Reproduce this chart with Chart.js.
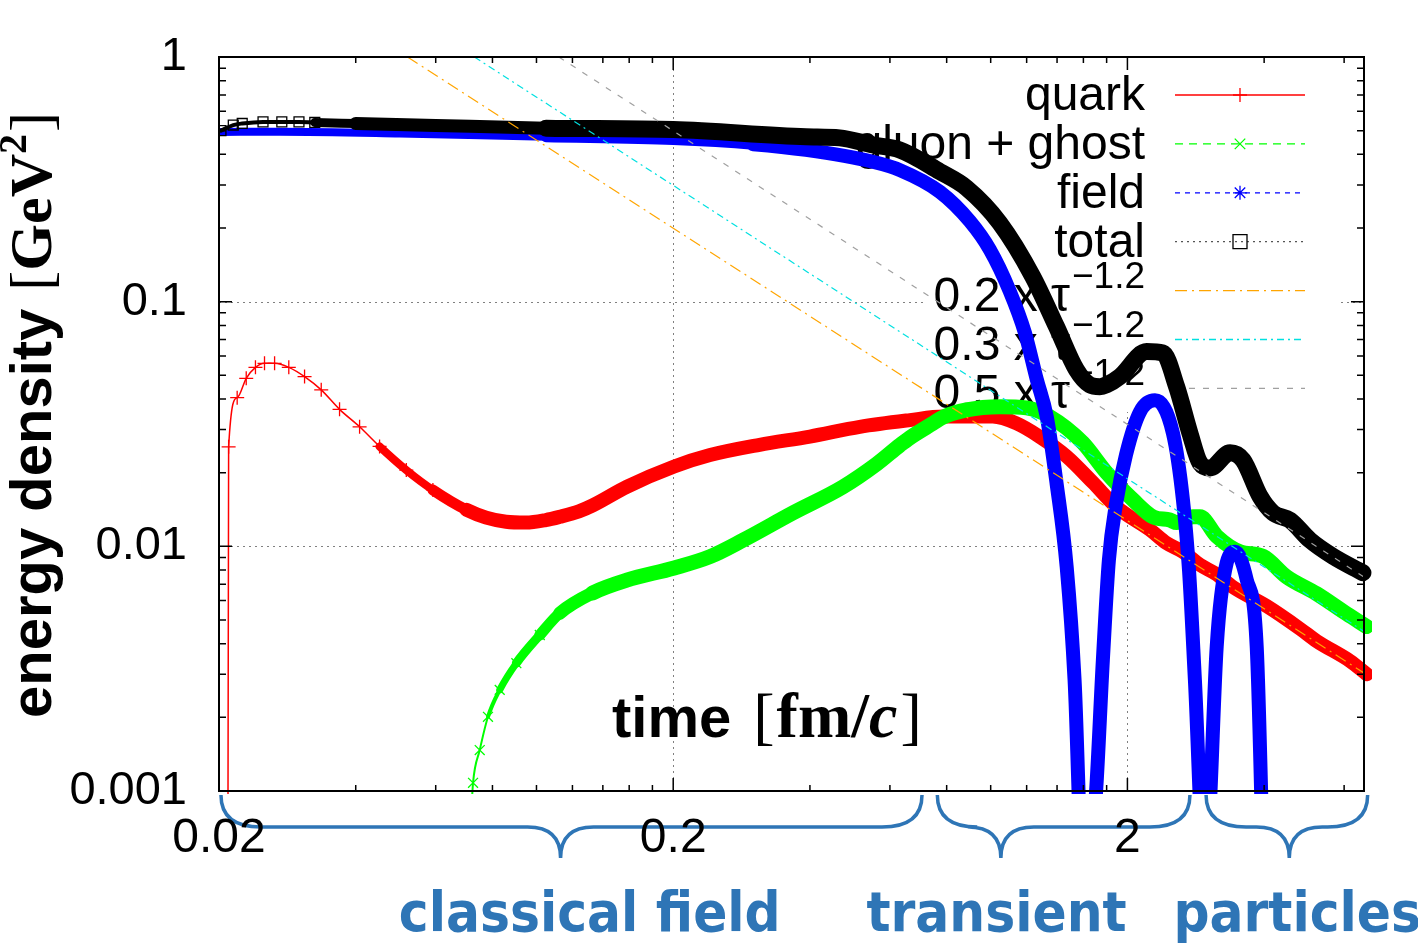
<!DOCTYPE html>
<html>
<head>
<meta charset="utf-8">
<title>energy density vs time</title>
<script src="https://cdn.jsdelivr.net/npm/chart.js@4.4.1/dist/chart.umd.min.js"></script>
<style>
  html, body { margin: 0; padding: 0; background: #fff; }
  #wrap { width: 1418px; height: 943px; }
</style>
</head>
<body>
<div id="wrap"><canvas id="energyChart" width="1418" height="943"></canvas></div>
<script>
// time in fm/c, energy density in GeV^2
var quarkTime = [0.0209, 0.0210, 0.02193, 0.02296, 0.02406, 0.02519, 0.02651, 0.02849, 0.03086, 0.03358, 0.03685, 0.04079, 0.04514,
  0.05169, 0.05915, 0.0701, 0.0775, 0.0857, 0.0948, 0.1048, 0.1125, 0.124, 0.133, 0.158, 0.201, 0.241, 0.310, 0.400, 0.515,
  0.664, 0.785, 0.885, 1.01, 1.14, 1.28, 1.47, 1.68, 1.89, 2.24, 2.44, 2.65, 2.89, 3.14, 3.42, 4.05, 4.80, 5.22, 6.18, 6.73];
var quarkEnergy = [0.0001, 0.0255, 0.0405, 0.0486, 0.0539, 0.0560, 0.0560, 0.0539, 0.0494, 0.0436, 0.0363, 0.0308, 0.0256,
  0.0205, 0.0170, 0.0141, 0.0131, 0.0126, 0.0125, 0.0128, 0.0132, 0.0139, 0.0147, 0.0175, 0.0212, 0.0236, 0.0260, 0.0281, 0.0308,
  0.0328, 0.0339, 0.0339, 0.0339, 0.0318, 0.0281, 0.0233, 0.0182, 0.0145, 0.0117, 0.0103, 0.0095, 0.0084, 0.0077, 0.0068, 0.0057,
  0.0046, 0.0041, 0.0034, 0.0030];

var gluonTime = [0.0718, 0.0725, 0.0750, 0.0782, 0.0830, 0.0903, 0.1017, 0.1125, 0.1329, 0.158, 0.201, 0.241, 0.285, 0.367,
  0.473, 0.561, 0.631, 0.664, 0.746, 0.785, 0.885, 1.047, 1.199, 1.349, 1.595, 1.799, 2.057, 2.277, 2.481, 2.567, 2.789, 2.889,
  3.145, 3.539, 3.978, 4.485, 5.221, 6.078, 6.727];
var gluonEnergy = [0.0008, 0.00108, 0.00147, 0.00201, 0.00259, 0.00333, 0.00434, 0.00533, 0.00645, 0.00727, 0.00816, 0.00908,
  0.0106, 0.0137, 0.0175, 0.0217, 0.0259, 0.0278, 0.0318, 0.0337, 0.0361, 0.0372, 0.0368, 0.0339, 0.0265, 0.0200, 0.0155, 0.0132,
  0.0128, 0.0125, 0.0132, 0.0132, 0.0110, 0.0095, 0.0091, 0.0075, 0.0064, 0.0053, 0.0047];

var fieldTime = [0.0202, 0.0272, 0.05, 0.105, 0.2, 0.3, 0.392, 0.55, 0.631, 0.773, 0.90, 0.996, 1.10, 1.19, 1.264, 1.329, 1.396,
  1.47, 1.53, 1.60, 1.70, 1.766, 1.821, 1.887, 1.985, 2.131, 2.30, 2.519, 2.65, 2.733, 2.816, 2.97, 3.04, 3.145, 3.308, 3.451,
  3.662, 3.852, 3.99];
var fieldEnergy = [0.494, 0.495, 0.487, 0.472, 0.460, 0.440, 0.417, 0.373, 0.345, 0.281, 0.213, 0.163, 0.111, 0.0745, 0.0479,
  0.0338, 0.0182, 0.00824, 0.00284, 0.0004, 0.0009, 0.00343, 0.0088, 0.0148, 0.0236, 0.0354, 0.0395, 0.0290, 0.0155, 0.0080,
  0.00284, 0.0004, 0.0009, 0.00389, 0.00855, 0.0095, 0.0073, 0.00389, 0.0004];

var totalTime = [0.0202, 0.0215, 0.0225, 0.025, 0.0275, 0.030, 0.0325, 0.040, 0.060, 0.105, 0.2, 0.392, 0.465, 0.55, 0.631,
  0.773, 0.885, 1.047, 1.238, 1.396, 1.545, 1.653, 1.739, 1.80, 1.925, 2.205, 2.395, 2.567, 2.746, 2.889, 3.04, 3.365, 3.594,
  3.918, 4.185, 4.56, 5.047, 5.672, 6.60];
var totalEnergy = [0.50, 0.527, 0.535, 0.543, 0.543, 0.543, 0.540, 0.535, 0.525, 0.512, 0.505, 0.472, 0.467, 0.437, 0.417,
  0.340, 0.2915, 0.2097, 0.1265, 0.079, 0.0526, 0.0457, 0.0449, 0.0457, 0.0494, 0.0625, 0.0617, 0.0449, 0.029, 0.0219, 0.0209,
  0.0241, 0.0225, 0.016, 0.0137, 0.0128, 0.0106, 0.0091, 0.0078];

// straight reference lines (end points read where they enter and leave the frame)
var fit02Time = [0.052, 6.70];
var fit02Energy = [1.0, 0.00300];
var fit03Time = [0.073, 6.70];
var fit03Energy = [1.0, 0.00444];
var fit05Time = [0.112, 6.70];
var fit05Energy = [1.0, 0.00740];

// ticks
var xTickValues = [0.02, 0.04, 0.06, 0.08, 0.1, 0.12, 0.14, 0.16, 0.18, 0.2, 0.4, 0.6, 0.8, 1, 1.2, 1.4, 1.6, 1.8, 2, 4, 6];
var xTickLabels = ["0.02", "", "", "", "", "", "", "", "", "0.2", "", "", "", "", "", "", "", "", "2", "", ""];
var yTickValues = [0.001, 0.002, 0.003, 0.004, 0.005, 0.006, 0.007, 0.008, 0.009, 0.01, 0.02, 0.03, 0.04, 0.05, 0.06, 0.07,
  0.08, 0.09, 0.1, 0.2, 0.3, 0.4, 0.5, 0.6, 0.7, 0.8, 0.9, 1];
var yTickLabels = ["0.001", "", "", "", "", "", "", "", "", "0.01", "", "", "", "", "", "", "", "", "0.1", "", "", "", "", "",
  "", "", "", "1"];

// legend and annotation texts
var seriesNames = ["quark", "gluon + ghost", "field", "total"];
var fitNames = ["0.2 x \u03c4", "0.3 x \u03c4", "0.5 x \u03c4"];
var fitPower = "\u22121.2";
var regionNames = ["classical field", "transient", "particles"];
var regionStart = [0.0202, 0.763, 2.98];
var regionEnd = [0.706, 2.746, 6.76];
var regionTip = [0.113, 1.053, 4.544];
var regionLabelTime = [0.131, 1.03, 4.73];

var SANS = "'Liberation Sans', Arial, sans-serif";
var SERIF = "'Liberation Serif', 'DejaVu Serif', serif";
var REGION_BLUE = "#2e75b6";

function toPoints(times, values) {
  return times.map(function (t, i) { return { x: t, y: values[i] }; });
}

function labelFor(values, labels, v) {
  for (var i = 0; i < values.length; i++) {
    if (Math.abs(values[i] - v) < values[i] * 1e-6) return labels[i];
  }
  return "";
}

function isMajor(values, labels, v) {
  return labelFor(values, labels, v) !== "";
}

// thin line with markers where the points are sparse, thick band where they pile up
function widthSteps(times, steps) {
  return function (ctx) {
    var t = times[ctx.p0DataIndex];
    for (var i = 0; i < steps.length; i++) {
      if (t < steps[i][0]) return steps[i][1];
    }
    return steps[steps.length - 1][1];
  };
}

function markerRadius(times, from, until, r) {
  return function (ctx) {
    var t = times[ctx.dataIndex];
    return (ctx.dataIndex >= from && t < until) ? r : 0;
  };
}

function drawMarker(ctx, style, x, y, r, color) {
  ctx.save();
  ctx.strokeStyle = color;
  ctx.lineWidth = 1.3;
  ctx.setLineDash([]);
  ctx.beginPath();
  if (style === "cross" || style === "star") {
    ctx.moveTo(x - r, y); ctx.lineTo(x + r, y);
    ctx.moveTo(x, y - r); ctx.lineTo(x, y + r);
  }
  if (style === "crossRot" || style === "star") {
    var d = r * 0.75;
    ctx.moveTo(x - d, y - d); ctx.lineTo(x + d, y + d);
    ctx.moveTo(x - d, y + d); ctx.lineTo(x + d, y - d);
  }
  if (style === "rect") ctx.rect(x - r, y - r, 2 * r, 2 * r);
  ctx.stroke();
  ctx.restore();
}

var legendStyles = [
  { color: "#ff0000", dash: [], marker: "cross" },
  { color: "#00ff00", dash: [8, 6], marker: "crossRot" },
  { color: "#0000ff", dash: [5, 5], marker: "star" },
  { color: "#555555", dash: [2, 4], marker: "rect", markerColor: "#000000" },
  { color: "#ffa500", dash: [12, 5, 2, 5] },
  { color: "#00e0e0", dash: [7, 4, 2, 4] },
  { color: "#a0a0a0", dash: [6, 8] }
];

function drawLegend(ctx) {
  ctx.save();
  ctx.fillStyle = "#ffffff";
  ctx.fillRect(925, 60, 412, 352);
  var textRight = 1145, lineL = 1175, lineR = 1305;
  for (var i = 0; i < legendStyles.length; i++) {
    var rowY = 95 + i * 48.9;
    var st = legendStyles[i];
    ctx.fillStyle = "#000";
    ctx.textAlign = "right";
    ctx.textBaseline = "alphabetic";
    if (i < seriesNames.length) {
      ctx.font = "48px " + SANS;
      ctx.fillText(seriesNames[i], textRight, rowY + 15);
    } else {
      ctx.font = "37px " + SANS;
      var supW = ctx.measureText(fitPower).width;
      ctx.fillText(fitPower, textRight, rowY - 3);
      ctx.font = "48px " + SANS;
      ctx.fillText(fitNames[i - seriesNames.length], textRight - supW - 2, rowY + 20);
    }
    ctx.strokeStyle = st.color;
    ctx.lineWidth = 1.3;
    ctx.setLineDash(st.dash);
    ctx.beginPath();
    ctx.moveTo(lineL, rowY);
    ctx.lineTo(lineR, rowY);
    ctx.stroke();
    if (st.marker) drawMarker(ctx, st.marker, (lineL + lineR) / 2, rowY, 7, st.markerColor || st.color);
  }
  ctx.restore();
}

function drawRich(ctx, parts, x, y) {
  parts.forEach(function (p) {
    ctx.font = p.font;
    x += p.pre || 0;
    ctx.fillText(p.text, x, y + (p.dy || 0));
    x += ctx.measureText(p.text).width;
  });
}

function drawBrace(ctx, x0, x1, xm, yTop, yMid, yTip) {
  var r0 = 40, r1 = 33;
  ctx.beginPath();
  ctx.moveTo(x0, yTop);
  ctx.quadraticCurveTo(x0, yMid, x0 + r0, yMid);
  ctx.lineTo(xm - r1, yMid);
  ctx.quadraticCurveTo(xm, yMid, xm, yTip);
  ctx.quadraticCurveTo(xm, yMid, xm + r1, yMid);
  ctx.lineTo(x1 - r0, yMid);
  ctx.quadraticCurveTo(x1, yMid, x1, yTop);
  ctx.stroke();
}

var decorPlugin = {
  id: "figureDecor",
  beforeDraw: function (chart) {
    var ctx = chart.ctx, xs = chart.scales.x;
    ctx.save();
    ctx.fillStyle = "#fff";
    ctx.fillRect(0, 0, chart.width, chart.height);
    ctx.strokeStyle = REGION_BLUE;
    ctx.lineWidth = 3.5;
    ctx.setLineDash([]);
    for (var i = 0; i < regionNames.length; i++) {
      drawBrace(ctx, xs.getPixelForValue(regionStart[i]), xs.getPixelForValue(regionEnd[i]),
        xs.getPixelForValue(regionTip[i]), 795, 827, 858);
    }
    ctx.fillStyle = REGION_BLUE;
    ctx.font = "bold 56px 'DejaVu Sans Condensed', 'Liberation Sans Narrow', " + SANS;
    ctx.textAlign = "center";
    ctx.textBaseline = "alphabetic";
    for (var j = 0; j < regionNames.length; j++) {
      ctx.fillText(regionNames[j], xs.getPixelForValue(regionLabelTime[j]), 931);
    }
    ctx.restore();
  },
  beforeDatasetsDraw: function (chart) {
    var ctx = chart.ctx, a = chart.chartArea, xs = chart.scales.x, ys = chart.scales.y;
    ctx.save();
    ctx.strokeStyle = "#808080";
    ctx.lineWidth = 1;
    ctx.setLineDash([2, 4]);
    ctx.beginPath();
    xTickValues.forEach(function (v, i) {
      if (!xTickLabels[i] || i === 0) return;
      var px = Math.round(xs.getPixelForValue(v)) + 0.5;
      ctx.moveTo(px, a.top); ctx.lineTo(px, a.bottom);
    });
    yTickValues.forEach(function (v, i) {
      if (!yTickLabels[i] || i === 0 || i === yTickValues.length - 1) return;
      var py = Math.round(ys.getPixelForValue(v)) + 0.5;
      ctx.moveTo(a.left, py); ctx.lineTo(a.right, py);
    });
    ctx.stroke();
    ctx.restore();
    drawLegend(ctx);
  },
  afterDatasetsDraw: function (chart) {
    var ctx = chart.ctx, a = chart.chartArea, xs = chart.scales.x, ys = chart.scales.y;
    ctx.save();
    ctx.strokeStyle = "#000";
    ctx.setLineDash([]);
    ctx.lineWidth = 1.5;
    ctx.beginPath();
    xTickValues.forEach(function (v) {
      var px = xs.getPixelForValue(v);
      var len = isMajor(xTickValues, xTickLabels, v) ? 13 : 6;
      ctx.moveTo(px, a.bottom); ctx.lineTo(px, a.bottom - len);
      ctx.moveTo(px, a.top); ctx.lineTo(px, a.top + len);
    });
    yTickValues.forEach(function (v) {
      var py = ys.getPixelForValue(v);
      var len = isMajor(yTickValues, yTickLabels, v) ? 13 : 7;
      ctx.moveTo(a.left, py); ctx.lineTo(a.left + len, py);
      ctx.moveTo(a.right, py); ctx.lineTo(a.right - len, py);
    });
    ctx.stroke();
    ctx.lineWidth = 2;
    ctx.strokeRect(a.left, a.top, a.right - a.left, a.bottom - a.top);
    ctx.restore();
  },
  afterDraw: function (chart) {
    var ctx = chart.ctx;
    ctx.save();
    ctx.fillStyle = "#000";
    ctx.textAlign = "left";
    ctx.textBaseline = "alphabetic";
    // x axis title sits inside the plot
    drawRich(ctx, [
      { text: "time", font: "bold 58px " + SANS },
      { text: "[", font: "64px " + SERIF, pre: 22 },
      { text: "fm/", font: "bold 64px " + SERIF, pre: 2 },
      { text: "c", font: "italic bold 64px " + SERIF },
      { text: "]", font: "64px " + SERIF, pre: 3 }
    ], 612, 737);
    // y axis title
    ctx.translate(51, 718);
    ctx.rotate(-Math.PI / 2);
    drawRich(ctx, [
      { text: "energy density", font: "bold 58px " + SANS },
      { text: "[", font: "60px " + SERIF, pre: 18 },
      { text: "GeV", font: "bold 60px " + SERIF },
      { text: "2", font: "bold 40px " + SERIF, dy: -25 },
      { text: "]", font: "60px " + SERIF, pre: 2 }
    ], 0, 0);
    ctx.restore();
  }
};

var overflow = { left: 0, top: 0, right: 8, bottom: 3 };

var chart = new Chart(document.getElementById("energyChart").getContext("2d"), {
  type: "line",
  data: {
    datasets: [
      {
        label: "0.5 x tau^-1.2", data: toPoints(fit05Time, fit05Energy), order: 1,
        borderColor: "#a0a0a0", borderWidth: 1.2, borderDash: [6, 8], pointRadius: 0
      },
      {
        label: "0.3 x tau^-1.2", data: toPoints(fit03Time, fit03Energy), order: 2,
        borderColor: "#00e0e0", borderWidth: 1.2, borderDash: [7, 4, 2, 4], pointRadius: 0
      },
      {
        label: "0.2 x tau^-1.2", data: toPoints(fit02Time, fit02Energy), order: 3,
        borderColor: "#ffa500", borderWidth: 1.2, borderDash: [12, 5, 2, 5], pointRadius: 0
      },
      {
        label: "total", data: toPoints(totalTime, totalEnergy), order: 4, clip: overflow,
        borderColor: "#000000", borderWidth: 16, borderCapStyle: "round", borderJoinStyle: "round",
        cubicInterpolationMode: "monotone",
        segment: { borderWidth: widthSteps(totalTime, [[0.0325, 4], [0.04, 9], [0.1, 13], [99, 17]]) },
        pointStyle: "rect", pointRadius: markerRadius(totalTime, 0, 0.034, 7),
        pointBorderColor: "#000", pointBackgroundColor: "rgba(0,0,0,0)", pointBorderWidth: 1.3
      },
      {
        label: "field", data: toPoints(fieldTime, fieldEnergy), order: 5, clip: overflow,
        borderColor: "#0000ff", borderWidth: 13, borderCapStyle: "round", borderJoinStyle: "round",
        cubicInterpolationMode: "monotone",
        segment: { borderWidth: widthSteps(fieldTime, [[0.1, 8], [0.3, 11], [99, 14]]) },
        pointRadius: 0
      },
      {
        label: "gluon + ghost", data: toPoints(gluonTime, gluonEnergy), order: 6, clip: overflow,
        borderColor: "#00ff00", borderWidth: 14, borderCapStyle: "round", borderJoinStyle: "round",
        cubicInterpolationMode: "monotone",
        segment: {
          borderWidth: widthSteps(gluonTime, [[0.0782, 2], [0.083, 4], [0.0903, 7], [0.1017, 9], [0.1125, 11], [0.1329, 13], [99, 15]])
        },
        pointStyle: "crossRot", pointRadius: markerRadius(gluonTime, 1, 0.11, 7),
        pointBorderColor: "#00ff00", pointBorderWidth: 1.3
      },
      {
        label: "quark", data: toPoints(quarkTime, quarkEnergy), order: 7, clip: overflow,
        borderColor: "#ff0000", borderWidth: 14, borderCapStyle: "round", borderJoinStyle: "round",
        cubicInterpolationMode: "monotone",
        segment: { borderWidth: widthSteps(quarkTime, [[0.045, 1.5], [0.0517, 8], [0.0592, 11], [99, 14]]) },
        pointStyle: "cross", pointRadius: markerRadius(quarkTime, 1, 0.06, 7),
        pointBorderColor: "#ff0000", pointBorderWidth: 1.3
      }
    ]
  },
  options: {
    responsive: false,
    animation: false,
    events: [],
    layout: { padding: { top: 57, right: 54, bottom: 0, left: 0 } },
    plugins: { legend: { display: false }, tooltip: { enabled: false } },
    scales: {
      x: {
        type: "logarithmic", position: "bottom", min: 0.02, max: 6.636,
        grid: { display: false, drawTicks: false }, border: { display: false },
        afterBuildTicks: function (scale) { scale.ticks = xTickValues.map(function (v) { return { value: v }; }); },
        afterFit: function (scale) { scale.height = 152; },
        ticks: {
          autoSkip: false, maxRotation: 0, padding: 19, color: "#000",
          font: { family: SANS, size: 48 },
          callback: function (value) { return labelFor(xTickValues, xTickLabels, value); }
        }
      },
      y: {
        type: "logarithmic", position: "left", min: 0.001, max: 1,
        grid: { display: false, drawTicks: false }, border: { display: false },
        afterBuildTicks: function (scale) { scale.ticks = yTickValues.map(function (v) { return { value: v }; }); },
        afterFit: function (scale) {
          scale.width = 219;
          // the "1" label may overhang the frame; do not let it push the plot down
          scale.paddingTop = 0;
          scale.paddingBottom = 0;
        },
        ticks: {
          autoSkip: false, padding: 32, color: "#000",
          font: { family: SANS, size: 47 },
          callback: function (value) { return labelFor(yTickValues, yTickLabels, value); }
        }
      }
    }
  },
  plugins: [decorPlugin]
});
</script>
</body>
</html>
